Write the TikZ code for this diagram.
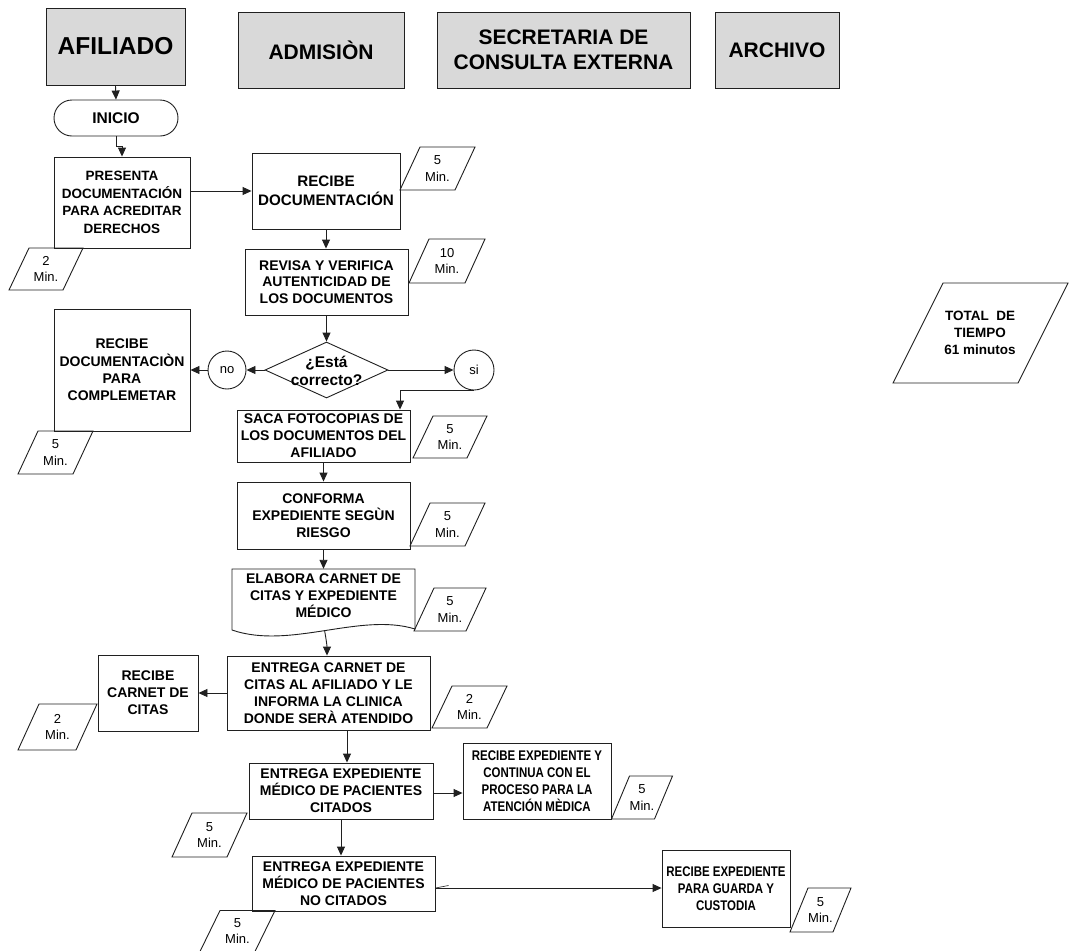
\documentclass[tikz,border=0pt]{standalone}
\usepackage{fontspec}
\setmainfont{Liberation Sans}
\newfontfamily\narrowsans{Liberation Sans}[FakeStretch=0.82]
\usetikzlibrary{arrows.meta,shapes.geometric,calc}

\definecolor{headgray}{HTML}{D9D9D9}
\definecolor{inkline}{HTML}{202020}

\tikzset{
  head/.style={draw=inkline, line width=0.8pt, fill=headgray, align=center, inner sep=0pt},
  box/.style={draw=inkline, line width=0.9pt, align=center, inner sep=1pt,
    font=\bfseries\fontsize{14}{17}\selectfont},
  narrowbox/.style={box, font=\narrowsans\bfseries\fontsize{14}{17}\selectfont},
  plain/.style={align=center, inner sep=0pt},
  mintext/.style={align=center, inner sep=0pt, font=\fontsize{13}{16.5}\selectfont},
  para/.style={draw=inkline, line width=0.9pt, line join=miter},
  arr/.style={draw=inkline, line width=0.9pt, -{Triangle[length=9pt,width=8pt]}},
  link/.style={draw=inkline, line width=0.9pt},
}

% parallelogram with a centred label: name, cx, cy, width, height, slant, text
\newcommand\timeslot[7]{%
  \draw[para] ({#2-#4/2},{#3+#5/2}) -- ({#2-#4/2+#6},{#3-#5/2})
    -- ({#2+#4/2},{#3-#5/2}) -- ({#2+#4/2-#6},{#3+#5/2}) -- cycle;
  \node[mintext] (#1) at (#2,#3) {#7};}

\begin{document}
\begin{tikzpicture}[x=1pt,y=-1pt]
\useasboundingbox (0,0) rectangle (1069,951);
\fill[white] (0,0) rectangle (1069,951);

% lane headers
\node[head, minimum width=139pt, minimum height=77pt,
  font=\bfseries\fontsize{24.5}{28}\selectfont] (hAf) at (115.5,46.5) {AFILIADO};
\node[head, minimum width=166pt, minimum height=76pt,
  font=\bfseries\fontsize{21}{25}\selectfont] (hAd) at (321,50) {ADMISIÒN};
\node[head, minimum width=253pt, minimum height=76pt,
  font=\bfseries\fontsize{21}{25}\selectfont] (hSe) at (563.5,50) {SECRETARIA DE\\CONSULTA EXTERNA};
\node[head, minimum width=124pt, minimum height=76pt,
  font=\bfseries\fontsize{21}{25}\selectfont] (hAr) at (777,50) {ARCHIVO};

% start
\node[box, rounded corners=18pt, minimum width=124pt, minimum height=36pt,
  font=\bfseries\fontsize{15.5}{18}\selectfont] (inicio) at (116,118) {INICIO};

% process boxes
\node[box, minimum width=136pt, minimum height=91pt,
  font=\bfseries\fontsize{13.5}{17.5}\selectfont] (presenta) at (122,202.5)
  {PRESENTA\\DOCUMENTACIÓN\\PARA ACREDITAR\\DERECHOS};
\node[box, minimum width=148pt, minimum height=76pt,
  font=\bfseries\fontsize{15.2}{19}\selectfont] (recibe) at (326,191)
  {RECIBE\\DOCUMENTACIÓN};
\node[box, minimum width=163pt, minimum height=66pt,
  font=\bfseries\fontsize{14}{16.7}\selectfont] (revisa) at (326.5,282)
  {REVISA Y VERIFICA\\AUTENTICIDAD DE\\LOS DOCUMENTOS};

% decision
\node[draw=inkline, line width=0.9pt, diamond, aspect=2.2, inner sep=0pt,
  minimum width=123pt, minimum height=56pt] (dec) at (326.5,370) {};
\node[plain, font=\bfseries\fontsize{15.5}{18}\selectfont] (dectext) at (326.5,371)
  {¿Está\\correcto?};
\node[draw=inkline, line width=0.9pt, circle, minimum size=38pt, inner sep=0pt,
  font=\fontsize{13}{15}\selectfont] (no) at (227,370) {no};
\node[draw=inkline, line width=0.9pt, circle, minimum size=40pt, inner sep=0pt,
  font=\fontsize{13}{15}\selectfont] (si) at (474,370) {si};

\node[box, minimum width=136pt, minimum height=122pt,
  font=\bfseries\fontsize{14}{17.3}\selectfont] (complementar) at (122,370)
  {RECIBE\\DOCUMENTACIÒN\\PARA\\COMPLEMETAR};

\node[box, minimum width=173pt, minimum height=52pt] (saca) at (323.5,436)
  {SACA FOTOCOPIAS DE\\LOS DOCUMENTOS DEL\\AFILIADO};
\node[box, minimum width=173pt, minimum height=67pt] (conforma) at (323.5,515.5)
  {CONFORMA\\EXPEDIENTE SEGÙN\\RIESGO};

% document shape
\draw[para] (232,569) -- (415,569) -- (415,629)
  .. controls (360,612) and (290,650) .. (232,630) -- cycle;
\node[plain, minimum width=183pt, minimum height=54pt,
  font=\bfseries\fontsize{14}{17}\selectfont] (elabora) at (323.5,596)
  {ELABORA CARNET DE\\CITAS Y EXPEDIENTE\\MÉDICO};
\coordinate (elabBot) at (324.6,630.6);

\node[box, minimum width=203pt, minimum height=74pt] (entregaC) at (328.5,693)
  {ENTREGA CARNET DE\\CITAS AL AFILIADO Y LE\\INFORMA LA CLINICA\\DONDE SERÀ ATENDIDO};
\node[box, minimum width=100pt, minimum height=76pt] (recibeC) at (148,693)
  {RECIBE\\CARNET DE\\CITAS};
\node[box, minimum width=184pt, minimum height=56pt] (citados) at (341,791)
  {ENTREGA EXPEDIENTE\\MÉDICO DE PACIENTES\\CITADOS};
\node[narrowbox, minimum width=148pt, minimum height=76pt] (continua) at (537,781)
  {RECIBE EXPEDIENTE Y\\CONTINUA CON EL\\PROCESO PARA LA\\ATENCIÓN MÈDICA};
\node[box, minimum width=183pt, minimum height=55pt] (nocitados) at (343.5,883.5)
  {ENTREGA EXPEDIENTE\\MÉDICO DE PACIENTES\\NO CITADOS};
\node[narrowbox, minimum width=128pt, minimum height=77pt] (guarda) at (726,888.5)
  {RECIBE EXPEDIENTE\\PARA GUARDA Y\\CUSTODIA};

% time slots
\timeslot{t1}{46}{269}{74}{42}{20}{2\\Min.}
\timeslot{t2}{437.5}{168.5}{75}{43}{20}{5\\Min.}
\timeslot{t3}{447}{261}{76}{44}{20}{10\\Min.}
\timeslot{t4}{55.5}{452.5}{75}{43}{20}{5\\Min.}
\timeslot{t5}{450}{437}{74}{42}{20}{5\\Min.}
\timeslot{t6}{447.5}{524.5}{75}{43}{20}{5\\Min.}
\timeslot{t7}{450}{609.5}{72}{43}{20}{5\\Min.}
\timeslot{t8}{469.5}{707}{75}{42}{20}{2\\Min.}
\timeslot{t9}{57.5}{727}{79}{46}{21}{2\\Min.}
\timeslot{t10}{209.5}{835}{75}{44}{20}{5\\Min.}
\timeslot{t11}{642}{797.5}{61}{43}{18}{5\\Min.}
\timeslot{t12}{237.5}{931}{75}{41}{20}{5\\Min.}
\timeslot{t13}{820.5}{910}{61}{44}{18}{5\\Min.}

% total time
\draw[para] (893,383) -- (943,283) -- (1068,283) -- (1018,383) -- cycle;
\node[plain, font=\bfseries\fontsize{13.5}{17}\selectfont] (total) at (980,333)
  {TOTAL\ \ DE\\TIEMPO\\61 minutos};

% connectors
\draw[arr] (hAf.south) -- (inicio.north);
\draw[arr] (inicio.south) -- ++(0,10) -| (presenta.north);
\draw[arr] (presenta.east |- recibe.west) -- (recibe.west);
\draw[arr] (recibe.south) -- (recibe.south |- revisa.north);
\draw[arr] (revisa.south) -- (dec.north);
\draw[arr] (dec.west) -- (no.east);
\draw[arr] (no.west) -- (no.west -| complementar.east);
\draw[arr] (dec.east) -- (si.west);
\draw[arr] (si.south) -| ([xshift=76.5pt]saca.north);
\draw[arr] (saca.south) -- (conforma.north);
\draw[arr] (conforma.south) -- (elabora.north);
\draw[arr] (elabBot) to[out=-80,in=90] ([xshift=-1.5pt]entregaC.north);
\draw[arr] (entregaC.west |- recibeC.east) -- (recibeC.east);
\draw[arr] ([xshift=18.5pt]entregaC.south) -- ([xshift=6pt]citados.north);
\draw[arr] ([yshift=-2pt]citados.east) -- ([yshift=-2pt]citados.east -| continua.west);
\draw[arr] (citados.south) -- (citados.south |- nocitados.north);
\draw[arr] ([yshift=-4.5pt]nocitados.east) -- ([yshift=-4.5pt]nocitados.east -| guarda.west);
\draw[link, line width=0.6pt] ([yshift=-4.5pt]nocitados.east) -- ++(13,-2.5);
\end{tikzpicture}
\end{document}
